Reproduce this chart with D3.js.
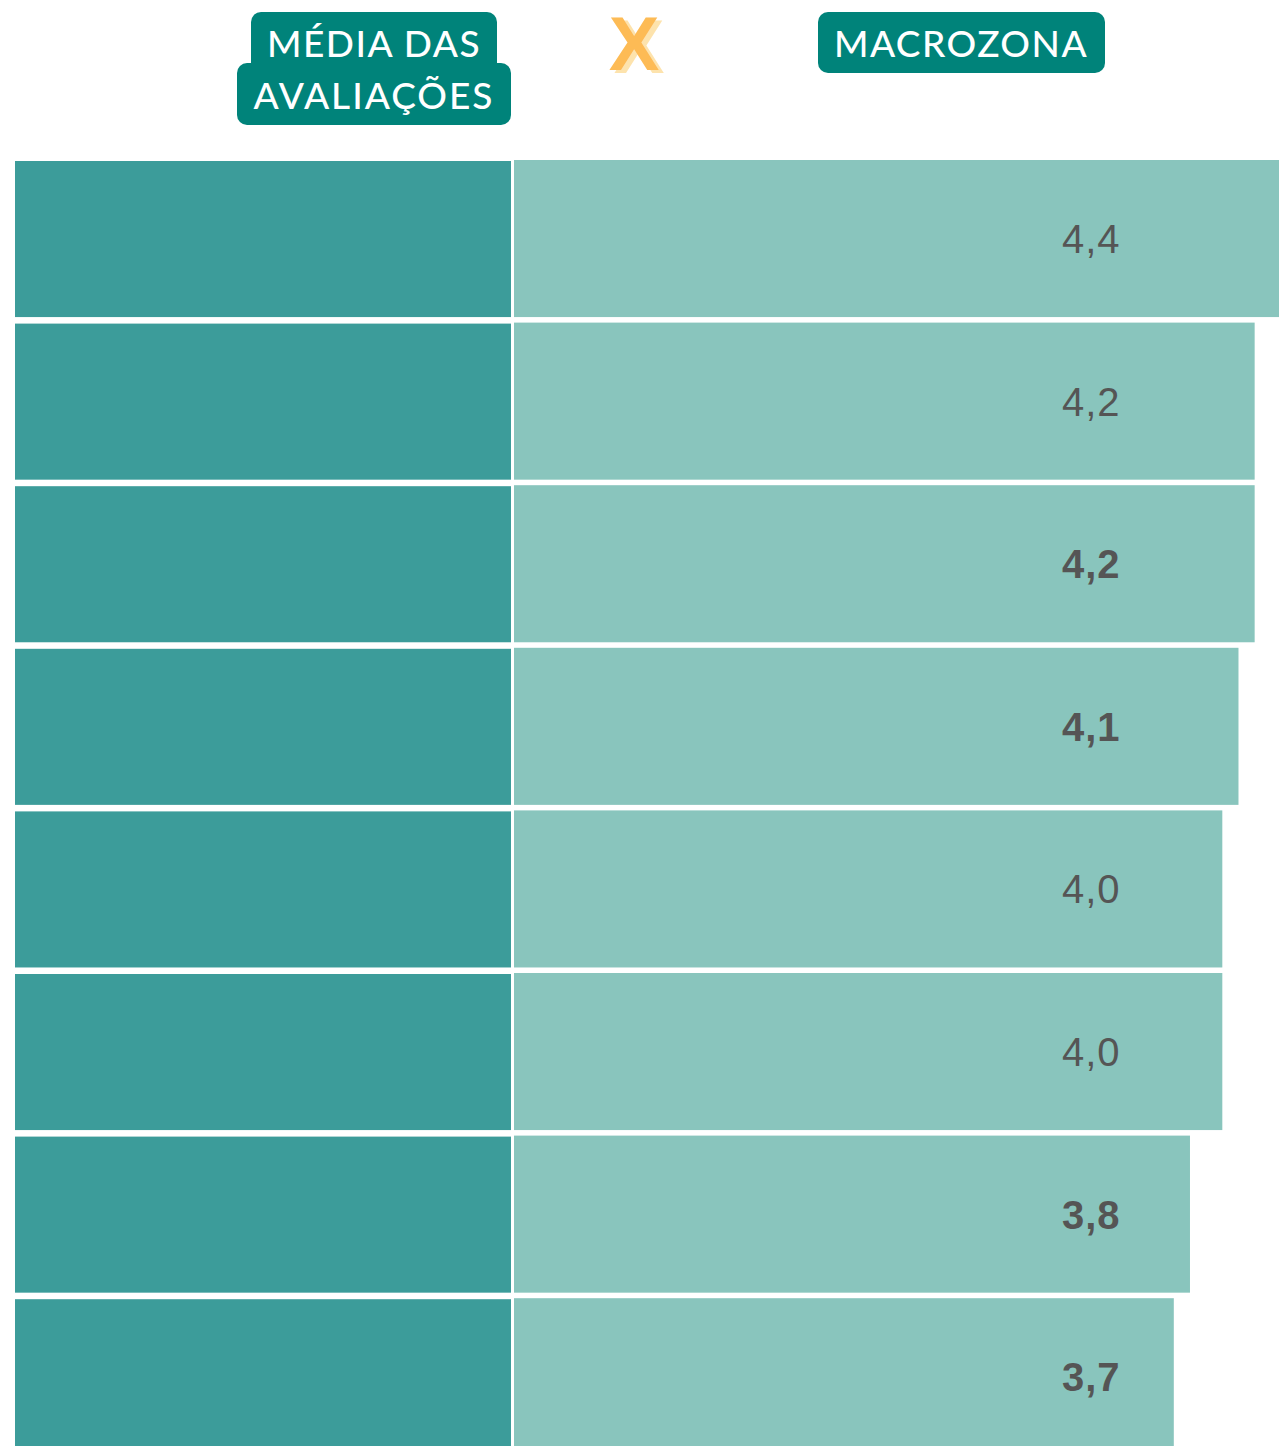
<!DOCTYPE html>
<html>
<head>
<meta charset="utf-8">
<script src="https://cdn.jsdelivr.net/npm/d3@7"></script>
<style>
  body { margin: 0; background: #fff; }
  svg { display: block; }
</style>
</head>
<body>
<svg id="chart"></svg>
<script>
var width = 1279,
    height = 1446;

// one row per macrozona
var rows = ["r1", "r2", "r3", "r4", "r5", "r6", "r7", "r8"];
var values = [4.4, 4.2, 4.2, 4.1, 4.0, 4.0, 3.8, 3.7];
var boldLabels = [false, false, true, true, false, false, true, true];
var headerLeft = ["MÉDIA DAS", "AVALIAÇÕES"];
var headerRight = ["MACROZONA"];

var dark = "#3c9c9a",
    light = "#89c5bd",
    badge = "#00837a",
    orange = "#fdbb55";

var svg = d3.select("#chart").attr("width", width).attr("height", height);

var step = 162.6, pad = 0.034;
var y = d3.scaleBand()
  .domain(rows)
  .range([160, 160 + step * (rows.length - pad)])
  .paddingInner(pad)
  .paddingOuter(0);

var x = d3.scaleLinear()
  .domain([-0.38, 4.4])
  .range([514, 1287]);

var data = rows.map(function(r, i) {
  return { id: r, value: values[i], bold: boldLabels[i] };
});

// left column blocks
svg.append("g").selectAll("rect")
  .data(data)
  .enter()
  .append("rect")
  .attr("x", 15)
  .attr("y", function(d) { return y(d.id) + 1; })
  .attr("width", 496)
  .attr("height", y.bandwidth() - 1)
  .attr("fill", dark);

// value bars
svg.append("g").selectAll("rect")
  .data(data)
  .enter()
  .append("rect")
  .attr("x", x(-0.38))
  .attr("y", function(d) { return y(d.id); })
  .attr("width", function(d) { return Math.min(x(d.value), width) - x(-0.38); })
  .attr("height", y.bandwidth())
  .attr("fill", light);

svg.append("g").selectAll("text")
  .data(data)
  .enter()
  .append("text")
  .attr("x", 1062)
  .attr("y", function(d) { return y(d.id) + y.bandwidth() / 2; })
  .attr("dy", "0.36em")
  .attr("font-family", "'Liberation Sans', Arial, sans-serif")
  .attr("font-size", 40)
  .attr("letter-spacing", 1)
  .attr("font-weight", function(d) { return d.bold ? "bold" : "normal"; })
  .attr("fill", "#555555")
  .text(function(d) { return d3.format(".1f")(d.value).replace(".", ","); });

// header badges
var hfont = "Lato, 'Open Sans', sans-serif";

svg.append("rect").attr("x", 251).attr("y", 12).attr("width", 246).attr("height", 62)
  .attr("rx", 10).attr("fill", badge);
svg.append("rect").attr("x", 237).attr("y", 63).attr("width", 274).attr("height", 62)
  .attr("rx", 10).attr("fill", badge);
svg.append("rect").attr("x", 818).attr("y", 12).attr("width", 287).attr("height", 61)
  .attr("rx", 10).attr("fill", badge);

svg.append("g").selectAll("text")
  .data(headerLeft)
  .enter()
  .append("text")
  .attr("x", 374)
  .attr("y", function(d, i) { return 57 + i * 52; })
  .attr("text-anchor", "middle")
  .attr("font-family", hfont)
  .attr("font-size", 37)
  .attr("font-weight", 500)
  .attr("letter-spacing", function(d, i) { return i ? 2 : 1.5; })
  .attr("fill", "#fff")
  .text(function(d) { return d; });

svg.append("text")
  .attr("x", 961)
  .attr("y", 57)
  .attr("text-anchor", "middle")
  .attr("font-family", hfont)
  .attr("font-size", 37)
  .attr("font-weight", 500)
  .attr("letter-spacing", 1.5)
  .attr("fill", "#fff")
  .text(headerRight[0]);

// orange X, pale shadow done with a filter so it stays one text
var filt = svg.append("defs").append("filter")
  .attr("id", "xshadow")
  .attr("x", "-20%").attr("y", "-20%")
  .attr("width", "140%").attr("height", "140%");
filt.append("feDropShadow")
  .attr("dx", 5).attr("dy", 3)
  .attr("stdDeviation", 0)
  .attr("flood-color", "#fde3ad")
  .attr("flood-opacity", 1);

svg.append("text")
  .attr("x", 634).attr("y", 70)
  .attr("text-anchor", "middle")
  .attr("font-family", "'Liberation Sans', Arial, sans-serif")
  .attr("font-size", 76)
  .attr("font-weight", "bold")
  .attr("fill", orange)
  .attr("filter", "url(#xshadow)")
  .text("X");
</script>
</body>
</html>
